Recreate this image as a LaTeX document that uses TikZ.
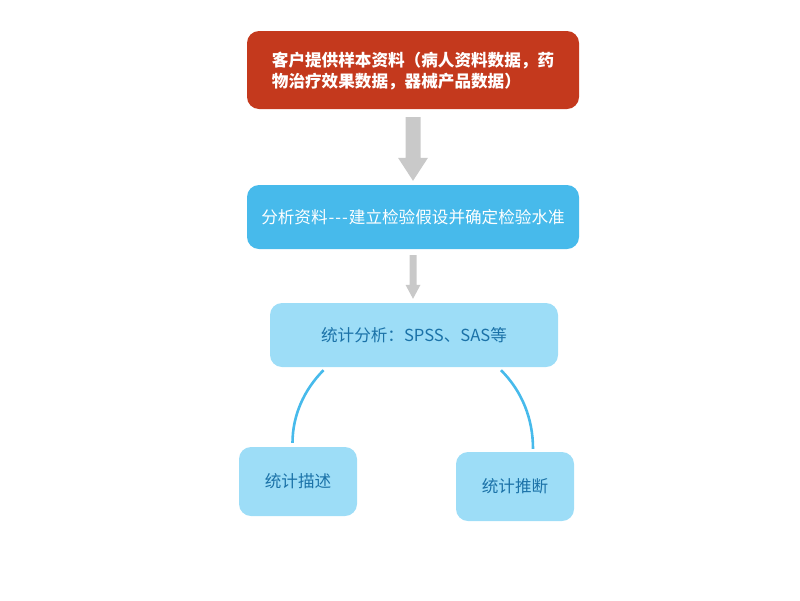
\documentclass[tikz,border=0pt]{standalone}
\usepackage{fontspec}
\setmainfont{Noto Sans CJK SC}
\usetikzlibrary{calc}
\definecolor{topred}{HTML}{C4391D}
\definecolor{midblue}{HTML}{47BAEB}
\definecolor{lightblue}{HTML}{9DDDF7}
\definecolor{textblue}{HTML}{1B72A8}
\definecolor{arrowgray}{HTML}{C9C9C9}
\tikzset{
  boxbase/.style={rectangle, rounded corners=12pt, inner sep=0pt, font=\fontsize{16.6}{21}\selectfont},
  redbox/.style={boxbase, fill=topred},
  bluebox/.style={boxbase, fill=midblue, text=white},
  lightbox/.style={boxbase, fill=lightblue, text=textblue},
  blockarrow/.style={fill=arrowgray, draw=none},
  arcline/.style={draw=midblue, line width=2.6pt}
}
\begin{document}
\begin{tikzpicture}[x=1pt,y=-1pt]
\useasboundingbox (0,0) rectangle (800,600);
\node[redbox, minimum width=332pt, minimum height=78pt] (top) at (413,70) {};
\node[font=\fontsize{16.6}{21}\selectfont\bfseries, text=white, align=left, inner sep=0pt] (toptext) at (413,71) {客户提供样本资料（病人资料数据，药\\物治疗效果数据，器械产品数据）};
\node[bluebox, minimum width=332pt, minimum height=64pt] (mid) at (413,217) {分析资料\kern1pt-{}\kern1pt-{}\kern1pt-{}\kern1pt建立检验假设并确定检验水准};
\node[lightbox, minimum width=288pt, minimum height=64pt] (stat) at (414,335) {统计分析：SPSS、SAS等};
\node[lightbox, minimum width=118pt, minimum height=69pt] (desc) at (298,481.5) {统计描述};
\node[lightbox, minimum width=118pt, minimum height=69pt] (infer) at (515,486.5) {统计推断};
% block arrow 1
\coordinate (a1s) at ($(top.south)+(0,8)$);
\coordinate (a1t) at ($(mid.north)+(0,-4)$);
\fill[blockarrow] ($(a1s)+(-7.5,0)$) -- ($(a1s)+(7.5,0)$) -- ($(a1t)+(7.5,-23)$) -- ($(a1t)+(15,-23)$) -- (a1t) -- ($(a1t)+(-15,-23)$) -- ($(a1t)+(-7.5,-23)$) -- cycle;
% block arrow 2
\coordinate (a2s) at ($(mid.south)+(0,6)$);
\coordinate (a2t) at ($(stat.north)+(-1,-4)$);
\fill[blockarrow] ($(a2s)+(-3.5,0)$) -- ($(a2s)+(3.5,0)$) -- ($(a2t)+(3.5,-14)$) -- ($(a2t)+(7.5,-14)$) -- (a2t) -- ($(a2t)+(-7.5,-14)$) -- ($(a2t)+(-3.5,-14)$) -- cycle;
% arcs
\coordinate (l1) at ($(stat.south)+(-90.5,3)$);
\coordinate (l2) at ($(desc.north)+(-5.5,-4)$);
\coordinate (r1) at ($(stat.south)+(87,3)$);
\coordinate (r2) at ($(infer.north)+(18,-3)$);
\draw[arcline] (l1) .. controls +(-19.4,19.4) and +(0,-27.4) .. (l2);
\draw[arcline] (r1) .. controls +(21.1,21.1) and +(0,-29.9) .. (r2);
\end{tikzpicture}
\end{document}
